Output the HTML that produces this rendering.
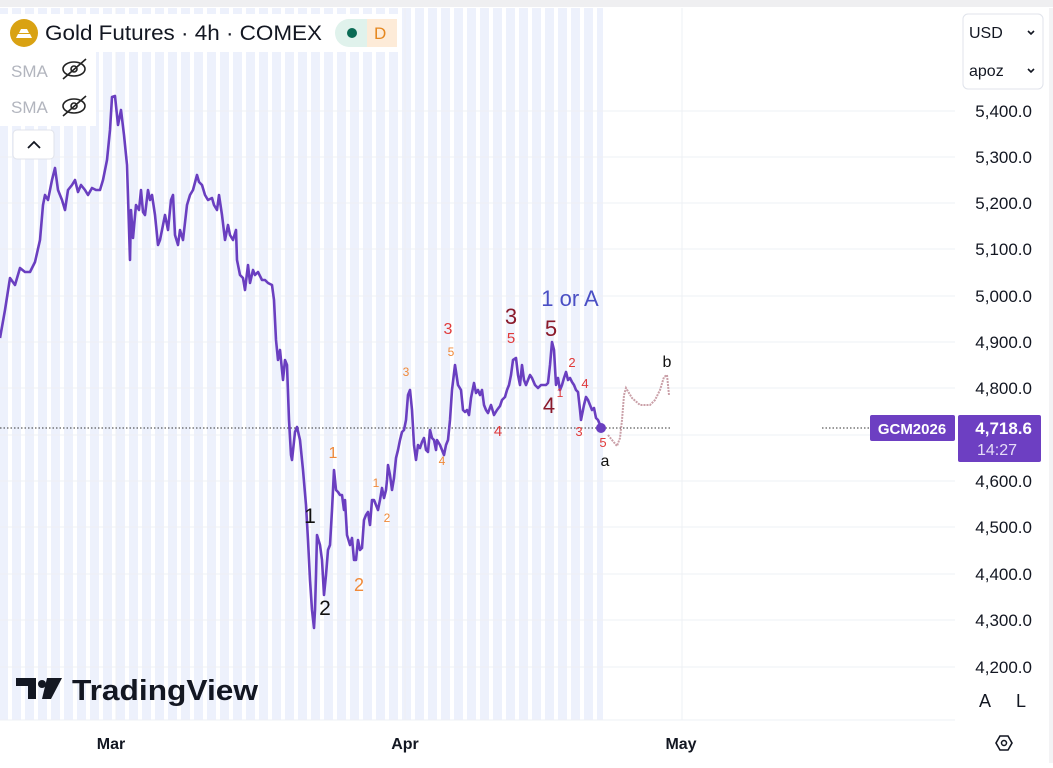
<!DOCTYPE html>
<html><head><meta charset="utf-8"><style>
body{margin:0;width:1053px;height:763px;overflow:hidden;background:#fff;font-family:"Liberation Sans","DejaVu Sans",sans-serif}
</style></head><body>
<svg width="1053" height="763" viewBox="0 0 1053 763" xmlns="http://www.w3.org/2000/svg" font-family="Liberation Sans, DejaVu Sans, sans-serif">
<defs>
<pattern id="st" x="12" y="0" width="13" height="763" patternUnits="userSpaceOnUse">
<rect x="0" y="0" width="9" height="763" fill="#edf1fc"/>
</pattern>
</defs>
<rect x="0" y="0" width="1053" height="7" fill="#efeff1"/>
<rect x="0" y="8" width="603" height="712" fill="url(#st)"/>
<g stroke="#eef0f4" stroke-width="1">
<line x1="0" y1="111" x2="955" y2="111"/><line x1="0" y1="157" x2="955" y2="157"/>
<line x1="0" y1="203" x2="955" y2="203"/><line x1="0" y1="249" x2="955" y2="249"/>
<line x1="0" y1="296" x2="955" y2="296"/><line x1="0" y1="342" x2="955" y2="342"/>
<line x1="0" y1="388" x2="955" y2="388"/><line x1="0" y1="435" x2="955" y2="435"/>
<line x1="0" y1="481" x2="955" y2="481"/><line x1="0" y1="527" x2="955" y2="527"/>
<line x1="0" y1="574" x2="955" y2="574"/><line x1="0" y1="620" x2="955" y2="620"/>
<line x1="0" y1="667" x2="955" y2="667"/>
<line x1="116" y1="8" x2="116" y2="720"/><line x1="405" y1="8" x2="405" y2="720"/><line x1="682" y1="8" x2="682" y2="720"/>
<line x1="0" y1="720" x2="955" y2="720"/>
</g>
<rect x="1049" y="8" width="4" height="755" fill="#f3f3f5"/>
<line x1="0" y1="428" x2="670" y2="428" stroke="#333" stroke-width="1" stroke-dasharray="1.5,2"/>
<line x1="822" y1="428" x2="870" y2="428" stroke="#333" stroke-width="1" stroke-dasharray="1.5,2"/>
<polyline fill="none" stroke="#caa0a8" stroke-width="2" stroke-dasharray="2,1" points="608,435 612,440 617,446 620,438 622,420 624,395 626,388 632,398 640,405 650,405 655,400 660,390 664,377 667,375 669,395"/>
<polyline fill="none" stroke="#6a3fc0" stroke-width="2.6" stroke-linejoin="round" points="0,338 5,310 10,278 15,285 20,268 25,272 30,272 35,262 40,240 43,205 45,195 48,200 52,180 55,168 58,190 62,200 65,210 68,190 72,185 75,180 78,192 81,185 85,190 88,195 92,188 96,190 100,190 103,180 107,160 110,130 112,97 115,96 118,125 121,110 124,135 127,165 130,260 131,210 133,238 136,205 139,210 141,190 143,212 145,215 148,190 150,200 152,195 155,215 158,245 160,240 163,225 165,215 168,230 171,200 173,195 175,235 178,245 180,230 183,240 187,205 190,195 193,190 197,175 199,182 202,185 205,195 208,200 212,198 214,205 217,210 219,195 222,215 225,240 228,225 230,235 233,240 236,230 237,260 240,275 243,278 245,290 248,265 250,283 253,270 255,275 258,272 262,280 265,280 268,283 272,285 274,300 276,340 278,360 280,350 283,380 285,360 287,365 289,420 291,455 292,460 295,432 297,427 300,440 303,470 306,505 308,540 310,580 312,610 314,628 315,610 316,575 317,535 320,545 322,560 324,595 326,575 328,550 330,545 332,510 334,470 336,490 338,492 340,495 342,495 344,510 345,500 347,535 350,545 352,538 354,560 356,560 358,540 360,550 362,548 364,520 366,515 368,512 370,525 372,500 374,500 376,505 378,510 380,500 382,488 384,498 386,490 387,480 388,465 390,475 392,490 394,478 396,458 398,450 400,440 402,432 404,430 406,420 408,395 410,390 412,410 414,445 416,460 418,445 420,448 422,442 424,438 426,450 428,452 430,430 432,438 434,440 436,450 437,440 440,445 442,450 444,455 446,445 448,440 450,420 452,390 455,365 458,385 461,390 463,410 465,412 467,410 469,415 471,398 474,383 476,393 478,390 480,395 482,390 484,405 486,410 488,413 491,405 494,415 497,410 500,406 502,400 505,397 507,390 509,385 511,375 513,360 516,358 518,375 520,385 522,365 524,380 526,385 528,380 530,375 532,378 535,385 538,388 541,385 543,385 546,385 548,383 550,365 552,342 554,350 556,385 558,378 560,390 562,385 564,378 566,372 568,380 570,378 572,382 574,385 576,390 578,392 580,410 581,420 584,405 586,397 588,400 590,405 592,410 594,408 596,418 598,420 601,427"/>
<circle cx="601" cy="428" r="5" fill="#6a3fc0"/>
<g text-anchor="middle">
<text x="570" y="306" font-size="22" fill="#4a4fc4">1 or A</text>
<text x="448" y="334" font-size="16" fill="#e03a3a">3</text>
<text x="451" y="356" font-size="12" fill="#f08a3a">5</text>
<text x="511" y="324" font-size="22" fill="#8b1a2a">3</text>
<text x="511" y="343" font-size="15" fill="#e03a3a">5</text>
<text x="551" y="336" font-size="22" fill="#8b1a2a">5</text>
<text x="549" y="413" font-size="22" fill="#8b1a2a">4</text>
<text x="560" y="397" font-size="12" fill="#e03a3a">1</text>
<text x="572" y="367" font-size="13" fill="#e03a3a">2</text>
<text x="585" y="388" font-size="13" fill="#e03a3a">4</text>
<text x="579" y="436" font-size="13" fill="#e03a3a">3</text>
<text x="603" y="447" font-size="13" fill="#e03a3a">5</text>
<text x="605" y="466" font-size="16" fill="#111">a</text>
<text x="667" y="367" font-size="16" fill="#111">b</text>
<text x="498" y="436" font-size="15" fill="#e03a3a">4</text>
<text x="442" y="465" font-size="12" fill="#f08a3a">4</text>
<text x="406" y="376" font-size="12" fill="#f08a3a">3</text>
<text x="333" y="458" font-size="16" fill="#f08a3a">1</text>
<text x="310" y="523" font-size="21" fill="#111">1</text>
<text x="325" y="615" font-size="21" fill="#111">2</text>
<text x="359" y="591" font-size="18" fill="#f08a3a">2</text>
<text x="376" y="487" font-size="12" fill="#f08a3a">1</text>
<text x="387" y="522" font-size="12" fill="#f08a3a">2</text>
</g>
<!-- header -->
<rect x="0" y="14" width="402" height="38" fill="#fff"/>
<circle cx="24" cy="33" r="14" fill="#d9a213"/>
<path d="M16 38h16l-2-4h-12zM19 33h10l-2-4h-6z" fill="#fff"/>
<text x="45" y="40" font-size="21" fill="#131722" textLength="277" lengthAdjust="spacingAndGlyphs">Gold Futures · 4h · COMEX</text>
<rect x="335" y="19" width="62" height="28" rx="14" fill="#e0f2ec"/>
<rect x="367" y="19" width="30" height="28" fill="#fdebd8"/>
<circle cx="352" cy="33" r="5" fill="#0a6b55"/>
<text x="374" y="39" font-size="17" fill="#e5871f">D</text>
<rect x="0" y="52" width="96" height="74" fill="#fff"/>
<text x="11" y="77" font-size="17" fill="#b2b5be">SMA</text>
<text x="11" y="113" font-size="17" fill="#b2b5be">SMA</text>
<g fill="none" stroke="#222" stroke-width="1.6">
<ellipse cx="74" cy="69" rx="11" ry="7"/><circle cx="74" cy="69" r="3"/><line x1="63" y1="79" x2="86" y2="59"/>
<ellipse cx="74" cy="106" rx="11" ry="7"/><circle cx="74" cy="106" r="3"/><line x1="63" y1="116" x2="86" y2="96"/>
</g>
<rect x="13" y="130" width="41" height="29" rx="4" fill="#fff" stroke="#e0e3eb"/>
<path d="M28 148l6-6 6 6" fill="none" stroke="#131722" stroke-width="1.8"/>
<!-- logo -->
<g fill="#131722"><path d="M16 678h20v21h-8v-13h-12z"/><circle cx="42" cy="684" r="4"/><path d="M47 678h15l-11 21h-9z"/></g>
<text x="72" y="700" font-size="29" font-weight="bold" fill="#131722" textLength="186" lengthAdjust="spacingAndGlyphs">TradingView</text>
<!-- axis -->
<g font-size="17" fill="#131722" text-anchor="end">
<text x="1032" y="117">5,400.0</text><text x="1032" y="163">5,300.0</text>
<text x="1032" y="209">5,200.0</text><text x="1032" y="255">5,100.0</text>
<text x="1032" y="302">5,000.0</text><text x="1032" y="348">4,900.0</text>
<text x="1032" y="394">4,800.0</text><text x="1032" y="487">4,600.0</text>
<text x="1032" y="533">4,500.0</text><text x="1032" y="580">4,400.0</text>
<text x="1032" y="626">4,300.0</text><text x="1032" y="673">4,200.0</text>
</g>
<rect x="963" y="14" width="80" height="75" rx="5" fill="#fff" stroke="#e0e3eb"/>
<text x="969" y="38" font-size="16" fill="#131722">USD</text>
<text x="969" y="76" font-size="16" fill="#131722">apoz</text>
<path d="M1028 31l3 3 3-3M1028 69l3 3 3-3" fill="none" stroke="#131722" stroke-width="1.6"/>
<rect x="870" y="415" width="85" height="26" rx="2" fill="#6d3fc2"/>
<text x="912" y="434" font-size="15" font-weight="bold" fill="#fff" text-anchor="middle">GCM2026</text>
<rect x="958" y="415" width="83" height="47" rx="2" fill="#6d3fc2"/>
<text x="1032" y="434" font-size="17" font-weight="bold" fill="#fff" text-anchor="end">4,718.6</text>
<text x="1017" y="455" font-size="16" fill="#e6ddf7" text-anchor="end">14:27</text>
<text x="985" y="707" font-size="18" fill="#131722" text-anchor="middle">A</text>
<text x="1021" y="707" font-size="18" fill="#131722" text-anchor="middle">L</text>
<g font-size="16" font-weight="bold" fill="#131722" text-anchor="middle">
<text x="111" y="749">Mar</text><text x="405" y="749">Apr</text><text x="681" y="749">May</text>
</g>
<path d="M996 743l4-7h8l4 7-4 7h-8z" fill="none" stroke="#131722" stroke-width="1.6"/>
<circle cx="1004" cy="743" r="2.5" fill="none" stroke="#131722" stroke-width="1.5"/>
</svg>
</body></html>
